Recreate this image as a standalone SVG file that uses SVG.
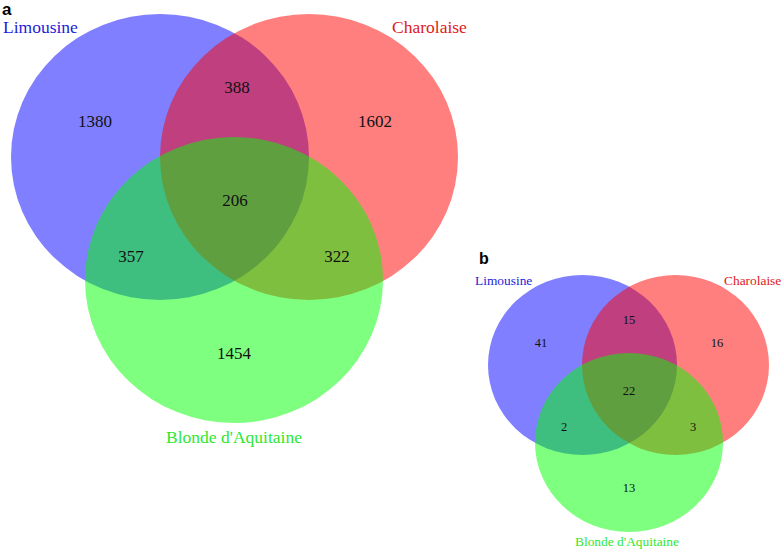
<svg xmlns="http://www.w3.org/2000/svg" width="784" height="552" viewBox="0 0 784 552">
  <style>
    .set { stroke: none; fill-opacity: 0.5; }
    .blue { fill: #0000ff; }
    .red { fill: #ff0000; }
    .green { fill: #00ff00; }
    .lbl { font-family: "Liberation Serif", "Times New Roman", serif; }
    .num { font-family: "Liberation Serif", "Times New Roman", serif; fill: #111; text-anchor: middle; }
    .panel { font-family: "Liberation Sans", Arial, sans-serif; font-weight: bold; fill: #000; }
    .tb { fill: #1c1cd8; }
    .tr { fill: #e01818; }
    .tg { fill: #2ee82e; }
  </style>

  <g id="venn-a">
    <text class="panel" x="2" y="15" font-size="17">a</text>
    <g id="a-limousine">
      <ellipse class="set blue" cx="160" cy="157" rx="149" ry="143"/>
      <text class="lbl tb" x="3" y="33" font-size="17.5">Limousine</text>
    </g>
    <g id="a-charolaise">
      <ellipse class="set red" cx="309" cy="157" rx="149" ry="143"/>
      <text class="lbl tr" x="392" y="33" font-size="17.5">Charolaise</text>
    </g>
    <g id="a-blonde">
      <ellipse class="set green" cx="234" cy="280" rx="149" ry="143"/>
      <text class="lbl tg" x="234" y="443" font-size="17.5" text-anchor="middle">Blonde d'Aquitaine</text>
    </g>
    <g id="a-counts" font-size="17">
      <text class="num" x="95" y="127">1380</text>
      <text class="num" x="237" y="93">388</text>
      <text class="num" x="375" y="127">1602</text>
      <text class="num" x="235" y="206">206</text>
      <text class="num" x="131" y="262">357</text>
      <text class="num" x="337" y="262">322</text>
      <text class="num" x="234" y="359">1454</text>
    </g>
  </g>

  <g id="venn-b">
    <text class="panel" x="479" y="264" font-size="16">b</text>
    <g id="b-limousine">
      <ellipse class="set blue" cx="582.5" cy="365" rx="94.5" ry="90"/>
      <text class="lbl tb" x="475" y="285" font-size="13.4">Limousine</text>
    </g>
    <g id="b-charolaise">
      <ellipse class="set red" cx="675.5" cy="365" rx="93.5" ry="90"/>
      <text class="lbl tr" x="724" y="285" font-size="13.4">Charolaise</text>
    </g>
    <g id="b-blonde">
      <ellipse class="set green" cx="629" cy="442.5" rx="94" ry="89.5"/>
      <text class="lbl tg" x="627" y="546" font-size="13.4" text-anchor="middle">Blonde d'Aquitaine</text>
    </g>
    <g id="b-counts" font-size="12.5">
      <text class="num" x="541" y="347">41</text>
      <text class="num" x="629" y="324">15</text>
      <text class="num" x="717" y="347">16</text>
      <text class="num" x="629" y="395">22</text>
      <text class="num" x="564" y="431">2</text>
      <text class="num" x="693" y="431">3</text>
      <text class="num" x="629" y="492">13</text>
    </g>
  </g>
</svg>
